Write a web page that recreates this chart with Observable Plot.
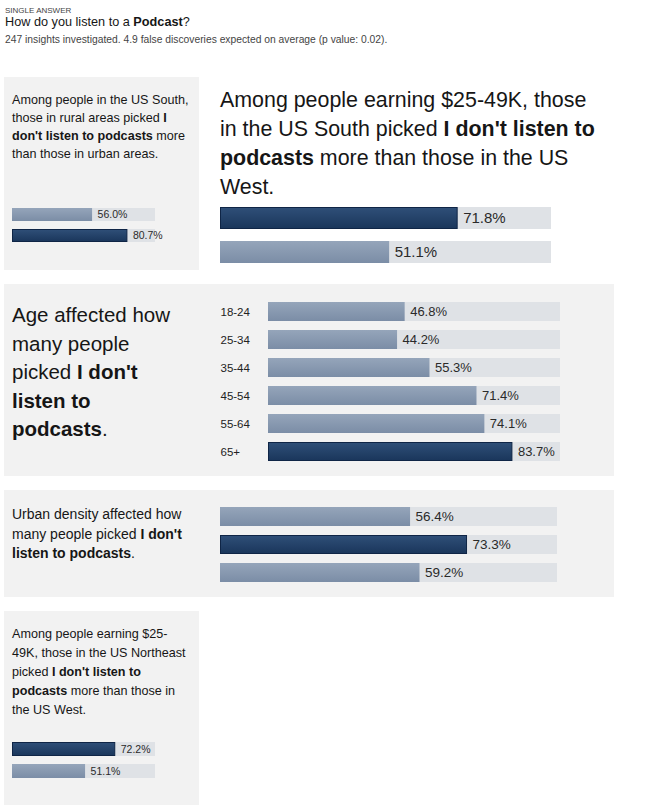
<!DOCTYPE html>
<html><head><meta charset="utf-8">
<script src="https://cdn.jsdelivr.net/npm/d3@7"></script>
<script src="https://cdn.jsdelivr.net/npm/@observablehq/plot@0.6"></script>
<style>
body{margin:0;background:#fff;font-family:"Liberation Sans",Arial,Helvetica,sans-serif;color:#1a1a1a;}
#page{position:relative;width:650px;height:806px;overflow:hidden;}
.panel{position:absolute;background:#f2f2f2;}
.txt{position:absolute;color:#161616;}
.chart{position:absolute;}
.chart svg{overflow:visible;display:block;}
</style></head><body>
<svg width="0" height="0" style="position:absolute">
  <defs>
    <linearGradient id="gLight" x1="0" y1="0" x2="0" y2="1">
      <stop offset="0" stop-color="#95a5ba"/><stop offset="1" stop-color="#7b8da6"/>
    </linearGradient>
    <linearGradient id="gDark" x1="0" y1="0" x2="0" y2="1">
      <stop offset="0" stop-color="#2f4f78"/><stop offset="1" stop-color="#1a365b"/>
    </linearGradient>
  </defs>
</svg>
<div id="page">
  <div class="txt" style="left:5px;top:6px;font-size:8px;color:#444;">SINGLE ANSWER</div>
  <div class="txt" style="left:5px;top:15px;font-size:12.7px;">How do you listen to a <b>Podcast</b>?</div>
  <div class="txt" style="left:5px;top:34px;font-size:10.3px;color:#444;">247 insights investigated. 4.9 false discoveries expected on average (p value: 0.02).</div>

  <div class="panel" style="left:4px;top:77px;width:195px;height:193px;"></div>
  <div class="txt" style="left:12px;top:91px;width:184px;font-size:12.6px;line-height:18px;">Among people in the US South, those in rural areas picked <b>I don't listen to podcasts</b> more than those in urban areas.</div>
  <div class="chart" id="c1" style="left:12px;top:204px;"></div>

  <div class="txt" style="left:220px;top:86px;width:382px;font-size:21.4px;line-height:29px;">Among people earning $25-49K, those in the US South picked <b>I don't listen to podcasts</b> more than those in the US West.</div>
  <div class="chart" id="c2" style="left:220px;top:201px;"></div>

  <div class="panel" style="left:4px;top:284px;width:610px;height:192px;"></div>
  <div class="txt" style="left:12px;top:301px;width:165px;font-size:20.5px;line-height:28.5px;">Age affected how many people picked <b>I don't listen to podcasts</b>.</div>
  <div class="chart" id="c3" style="left:220px;top:295.5px;"></div>

  <div class="panel" style="left:4px;top:490px;width:610px;height:107px;"></div>
  <div class="txt" style="left:12px;top:505px;width:182px;font-size:14px;line-height:19.5px;">Urban density affected how many people picked <b>I don't listen to podcasts</b>.</div>
  <div class="chart" id="c4" style="left:220px;top:502px;"></div>

  <div class="panel" style="left:4px;top:611px;width:195px;height:194px;"></div>
  <div class="txt" style="left:12px;top:624.5px;width:178px;font-size:12.6px;line-height:19px;">Among people earning $25-49K, those in the US Northeast picked <b>I don't listen to podcasts</b> more than those in the US West.</div>
  <div class="chart" id="c5" style="left:12px;top:737.5px;"></div>
</div>
<script>
// ---- data ----
const southCats = ["Urban areas", "Rural areas"];
const southVals = [56.0, 80.7];
const southHi = [false, true];

const incomeSouthCats = ["US South", "US West"];
const incomeSouthVals = [71.8, 51.1];
const incomeSouthHi = [true, false];

const ageCats = ["18-24", "25-34", "35-44", "45-54", "55-64", "65+"];
const ageVals = [46.8, 44.2, 55.3, 71.4, 74.1, 83.7];
const ageHi = [false, false, false, false, false, true];

const densityCats = ["Density group 1", "Density group 2", "Density group 3"];
const densityVals = [56.4, 73.3, 59.2];
const densityHi = [false, true, false];

const incomeNECats = ["US Northeast", "US West"];
const incomeNEVals = [72.2, 51.1];
const incomeNEHi = [true, false];

const FONT = '"Liberation Sans", Arial, Helvetica, sans-serif';

function bars({cats, vals, hi, barH, gap, trackW, labelW, font, catW = 0, catFont = 12, showCats = false}) {
  const step = barH + gap;
  const data = cats.map((c, i) => ({cat: c, val: vals[i], hi: hi[i]}));
  const marks = [
    Plot.barX(data, {y: "cat", x1: () => 0, x2: () => 100, fill: "#dfe2e6", inset: 0}),
    Plot.barX(data, {filter: d => !d.hi, y: "cat", x1: () => 0, x2: "val", fill: "url(#gLight)", inset: 0}),
    Plot.barX(data, {filter: d => d.hi, y: "cat", x1: () => 0, x2: "val", fill: "url(#gDark)", stroke: "#0f2546", strokeWidth: 1, inset: 0.5}),
    Plot.text(data, {y: "cat", x: "val", text: d => d.val.toFixed(1) + "%", textAnchor: "start", dx: 5, fontSize: font, fill: "#2a2a2a"})
  ];
  if (showCats) {
    marks.push(Plot.text(data, {y: "cat", text: "cat", frameAnchor: "left", textAnchor: "start", dx: -catW, fontSize: catFont, fill: "#222"}));
  }
  return Plot.plot({
    width: catW + trackW + labelW,
    height: cats.length * step,
    marginLeft: catW, marginRight: labelW, marginTop: 0, marginBottom: 0,
    x: {domain: [0, 100], axis: null},
    y: {domain: cats, axis: null, paddingInner: gap / step, paddingOuter: gap / 2 / step},
    style: {fontFamily: FONT, background: "transparent", overflow: "visible"},
    marks
  });
}

document.getElementById("c1").append(bars({cats: southCats, vals: southVals, hi: southHi, barH: 13, gap: 8, trackW: 143, labelW: 30, font: 10.5}));
document.getElementById("c2").append(bars({cats: incomeSouthCats, vals: incomeSouthVals, hi: incomeSouthHi, barH: 22, gap: 12, trackW: 331, labelW: 60, font: 15}));
document.getElementById("c3").append(bars({cats: ageCats, vals: ageVals, hi: ageHi, barH: 19, gap: 9.5, trackW: 292, labelW: 40, font: 13, catW: 48, catFont: 11.5, showCats: true}));
document.getElementById("c4").append(bars({cats: densityCats, vals: densityVals, hi: densityHi, barH: 18.5, gap: 9.5, trackW: 337, labelW: 50, font: 13.5}));
document.getElementById("c5").append(bars({cats: incomeNECats, vals: incomeNEVals, hi: incomeNEHi, barH: 13.5, gap: 8.5, trackW: 143, labelW: 30, font: 10.5}));
</script>
</body></html>
